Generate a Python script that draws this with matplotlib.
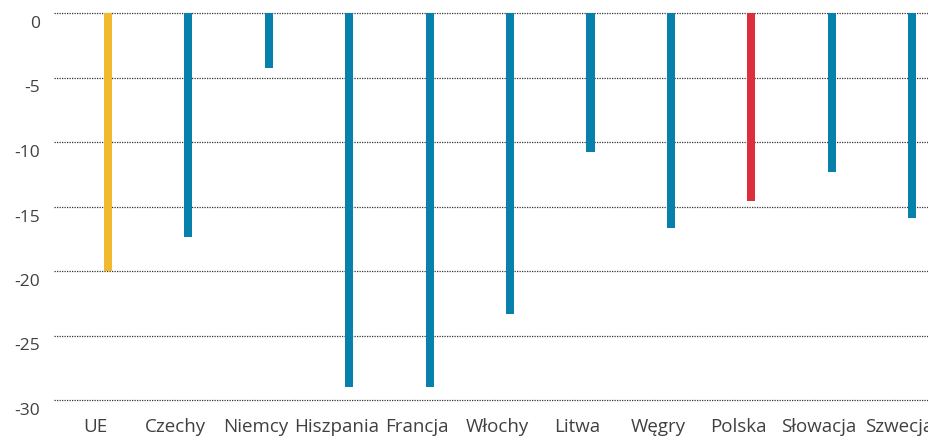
# Zmiana (%) wg kraju - wykres słupkowy z cienkimi słupkami
import matplotlib
matplotlib.use("Agg")
import matplotlib.pyplot as plt
import matplotlib.transforms as mtrans

countries = ["UE", "Czechy", "Niemcy", "Hiszpania", "Francja", "Włochy",
             "Litwa", "Węgry", "Polska", "Słowacja", "Szwecja"]
values = [-20.0, -17.4, -4.3, -29.0, -29.0, -23.3, -10.8, -16.7, -14.6, -12.3, -15.9]
yticks = [0, -5, -10, -15, -20, -25, -30]

BLUE = "#0780ab"
YELLOW = "#f0b92e"
RED = "#de2e3b"
colors = [YELLOW if c == "UE" else RED if c == "Polska" else BLUE for c in countries]

plt.rcParams["font.family"] = ["Open Sans", "DejaVu Sans"]

fig = plt.figure(figsize=(9.29, 4.37), dpi=100)
ax = fig.add_axes([54 / 929, 37 / 437, 875 / 929, 387 / 437])

x = list(range(len(countries)))
ax.bar(x, values, width=0.1, color=colors, zorder=3)

ax.set_xlim(-0.672, 10.21)
ax.set_ylim(-30, 0)

ax.set_yticks(yticks)
ax.set_yticklabels([str(v) for v in yticks])
ax.set_xticks(x)
ax.set_xticklabels(countries)

ax.tick_params(axis="both", length=0, colors="#404040")
ax.tick_params(axis="y", pad=10, labelsize=12.5)
ax.tick_params(axis="x", pad=13, labelsize=13.5)

# y labels sit a bit below their grid lines, x labels a bit left of the bars
for lab in ax.get_yticklabels():
    lab.set_transform(lab.get_transform() + mtrans.ScaledTranslation(0, -9 / 100, fig.dpi_scale_trans))
for lab in ax.get_xticklabels():
    lab.set_transform(lab.get_transform() + mtrans.ScaledTranslation(-13 / 100, 0, fig.dpi_scale_trans))
    lab.set_clip_on(False)

# dotted grid lines, drawn by hand so the one at -30 is not clipped
for v in yticks:
    ax.axhline(v, color="#333333", linestyle=(0, (1, 1)), linewidth=0.9, zorder=1, clip_on=False)
for s in ax.spines.values():
    s.set_visible(False)

fig.savefig("out.png", dpi=100)
